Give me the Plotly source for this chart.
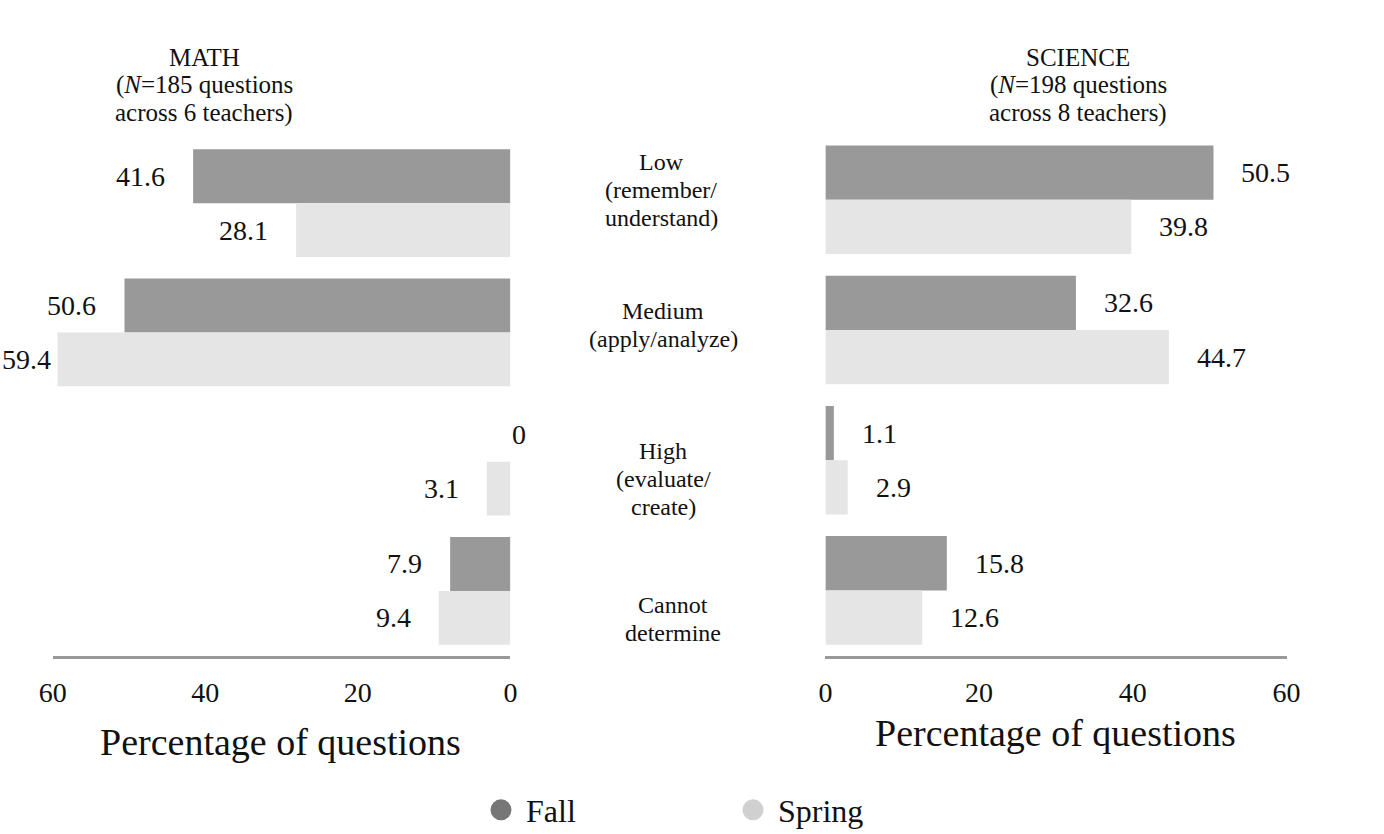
import plotly.graph_objects as go

# ---------------- data ----------------
cat_keys = ["Low", "Medium", "High", "Cannot determine"]
cat_labels = [["Low", "(remember/", "understand)"], ["Medium", "(apply/analyze)"],
              ["High", "(evaluate/", "create)"], ["Cannot", "determine"]]
math_fall = [41.6, 50.6, 0, 7.9]
math_spring = [28.1, 59.4, 3.1, 9.4]
sci_fall = [50.5, 32.6, 1.1, 15.8]
sci_spring = [39.8, 44.7, 2.9, 12.6]
x_ticks = [0, 20, 40, 60]
series_names = ["Fall", "Spring"]
math_title = ["MATH", "(<i>N</i>=185 questions", "across 6 teachers)"]
sci_title = ["SCIENCE", "(<i>N</i>=198 questions", "across 8 teachers)"]
axis_title = "Percentage of questions"

# ---------------- style ----------------
W, H = 1384, 834
FONT = "Liberation Serif"
TXT = "#111111"
FALL_BAR = "#999999"
SPRING_BAR = "#e5e5e5"
FALL_DOT = "#777777"
SPRING_DOT = "#d0d0d0"
BARGAP = 0.166
LINE_H = 28
VAL_SIZE = 28

MATH_X = (52.8, 510.4)
SCI_X = (825.4, 1286.5)

def px_x(p):
    return p / W

def px_y(p):
    return 1 - p / H

fig = go.Figure()

for (fall, spring, xa, ya) in [(math_fall, math_spring, "x", "y"), (sci_fall, sci_spring, "x2", "y2")]:
    fig.add_trace(go.Bar(y=cat_keys, x=fall, orientation="h", xaxis=xa, yaxis=ya,
                         marker=dict(color=FALL_BAR, line=dict(width=0)), showlegend=False,
                         hoverinfo="skip", name="Fall"))
    fig.add_trace(go.Bar(y=cat_keys, x=spring, orientation="h", xaxis=xa, yaxis=ya,
                         marker=dict(color=SPRING_BAR, line=dict(width=0)), showlegend=False,
                         hoverinfo="skip", name="Spring"))

# legend entries (circles)
for name, col in zip(series_names, [FALL_DOT, SPRING_DOT]):
    fig.add_trace(go.Scatter(x=[None], y=[None], mode="markers", name=name, xaxis="x", yaxis="y",
                             marker=dict(symbol="circle", size=16, color=col,
                                         line=dict(color=col, width=5))))

annotations = []
half = (1 - BARGAP) / 4
LABEL_GAP = 26
math_scale = (MATH_X[1] - MATH_X[0]) / 60.0
for vals_f, vals_s, xr, yr, side in [(math_fall, math_spring, "x", "y", -1),
                                     (sci_fall, sci_spring, "x2", "y2", 1)]:
    for i in range(len(cat_keys)):
        for v, dy in [(vals_f[i], -half), (vals_s[i], half)]:
            txt = f"{v:g}"
            if v == 0:
                anchor = "left" if side == -1 else "right"
                shift = 0
            else:
                anchor = "right" if side == -1 else "left"
                gap = LABEL_GAP
                if side == -1:
                    # keep label inside the figure's left edge
                    est_w = VAL_SIZE * (0.5 * sum(c.isdigit() for c in txt) + 0.25 * txt.count(".")) + 4
                    end_px = MATH_X[1] - v * math_scale
                    gap = max(0, min(LABEL_GAP, end_px - est_w))
                shift = side * gap
            annotations.append(dict(x=v, y=i + dy, xref=xr, yref=yr, text=txt,
                                    showarrow=False, xanchor=anchor, yanchor="middle",
                                    xshift=shift, font=dict(family=FONT, size=VAL_SIZE, color=TXT)))

def add_lines(lines, x, yref, y, base_shift, size, dx=0):
    n = len(lines)
    for k, line in enumerate(lines):
        annotations.append(dict(x=x, y=y, xref="paper", yref=yref, text=line, showarrow=False,
                                xanchor="center", yanchor="middle", xshift=dx,
                                yshift=base_shift - (k - (n - 1) / 2) * LINE_H,
                                font=dict(family=FONT, size=size, color=TXT)))

# category labels in the middle
label_dy = [13, 7, -17, -28]
label_dx = [-2, 0, 0, 10]
for i, lab in enumerate(cat_labels):
    add_lines(lab, px_x(663), "y", i, label_dy[i], 24, label_dx[i])

# panel titles
add_lines(math_title, px_x(204), "paper", px_y(85), 0, 25)
add_lines(sci_title, px_x(1078), "paper", px_y(85), 0, 25)

# axis titles
annotations.append(dict(x=px_x(280), y=px_y(742), xref="paper", yref="paper",
                        text=axis_title, showarrow=False, xanchor="center",
                        yanchor="middle", font=dict(family=FONT, size=38, color=TXT)))
annotations.append(dict(x=px_x(1055), y=px_y(733), xref="paper", yref="paper",
                        text=axis_title, showarrow=False, xanchor="center",
                        yanchor="middle", font=dict(family=FONT, size=38, color=TXT)))

xaxis_common = dict(tickvals=x_ticks, ticktext=[str(t) for t in x_ticks], showgrid=False,
                    zeroline=False, showline=True, linecolor="#999999", linewidth=3,
                    ticks="", tickfont=dict(family=FONT, size=28, color=TXT),
                    ticklabelstandoff=10, fixedrange=True, automargin=False)
yaxis_common = dict(showticklabels=False, showgrid=False, zeroline=False, showline=False,
                    ticks="", categoryorder="array", categoryarray=cat_keys,
                    range=[3.5, -0.5], fixedrange=True, automargin=False)

fig.update_layout(
    template="none",
    width=W, height=H,
    margin=dict(l=0, r=0, t=0, b=0, autoexpand=False),
    paper_bgcolor="white", plot_bgcolor="white",
    barmode="group", bargap=BARGAP, bargroupgap=0,
    xaxis=dict(**xaxis_common, domain=[px_x(MATH_X[0]), px_x(MATH_X[1])], range=[60, 0], anchor="y"),
    xaxis2=dict(**xaxis_common, domain=[px_x(SCI_X[0]), px_x(SCI_X[1])], range=[0, 60], anchor="y2"),
    yaxis=dict(**yaxis_common, domain=[px_y(655.5), px_y(138.5)], anchor="x"),
    yaxis2=dict(**yaxis_common, domain=[px_y(655.5), px_y(134.7)], anchor="x2"),
    annotations=annotations,
    showlegend=True,
    legend=dict(orientation="h", x=px_x(476), y=px_y(810), xanchor="left", yanchor="middle",
                font=dict(family=FONT, size=32, color=TXT), entrywidth=197, itemwidth=40,
                entrywidthmode="pixels", bgcolor="rgba(0,0,0,0)", borderwidth=0),
    font=dict(family=FONT, color=TXT),
)

fig.write_html("out.html", config={"displayModeBar": False},
               post_script="document.body.style.margin='0px';")
